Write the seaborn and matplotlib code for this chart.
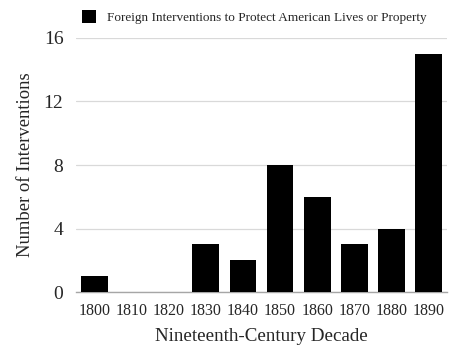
import matplotlib
matplotlib.use("Agg")
import matplotlib.pyplot as plt
import seaborn as sns
import pandas as pd

decades = ["1800", "1810", "1820", "1830", "1840", "1850", "1860", "1870", "1880", "1890"]
interventions = [1, 0, 0, 3, 2, 8, 6, 3, 4, 15]
series_name = "Foreign Interventions to Protect American Lives or Property"
yticks = [0, 4, 8, 12, 16]

sns.set_theme(style="white")
plt.rcParams['font.family'] = ['Liberation Serif', 'DejaVu Serif']

df = pd.DataFrame({"Decade": decades, "Count": interventions, "Series": series_name})

fig = plt.figure(figsize=(4.6, 3.58), dpi=100)
ax = fig.add_axes([0.165, 0.184, 0.807, 0.71])

sns.barplot(data=df, x="Decade", y="Count", hue="Series", palette=["black"],
            width=0.72, ax=ax, zorder=3, saturation=1, edgecolor="none")

ax.set_ylim(0, 16)
ax.set_yticks(yticks)
ax.set_yticklabels([str(t) for t in yticks], fontsize=14)
ax.tick_params(axis='x', labelsize=11.5, length=0, pad=8)
ax.tick_params(axis='y', length=0, pad=9)
ax.yaxis.grid(True, color="#d9d9d9", linewidth=0.9, zorder=0)
for s in ["top", "right", "left"]:
    ax.spines[s].set_visible(False)
ax.spines["bottom"].set_color("#a6a6a6")
ax.spines["bottom"].set_linewidth(1.0)
ax.set_xlabel("Nineteenth-Century Decade", fontsize=13.7, labelpad=6)
ax.set_ylabel("Number of Interventions", fontsize=13.4, labelpad=7)

ax.legend(loc="lower left", bbox_to_anchor=(0.002, 1.035), frameon=False,
          fontsize=9.5, handlelength=1.1, handleheight=1.1, borderaxespad=0,
          handletextpad=0.8)

fig.savefig("out.png", dpi=100)
